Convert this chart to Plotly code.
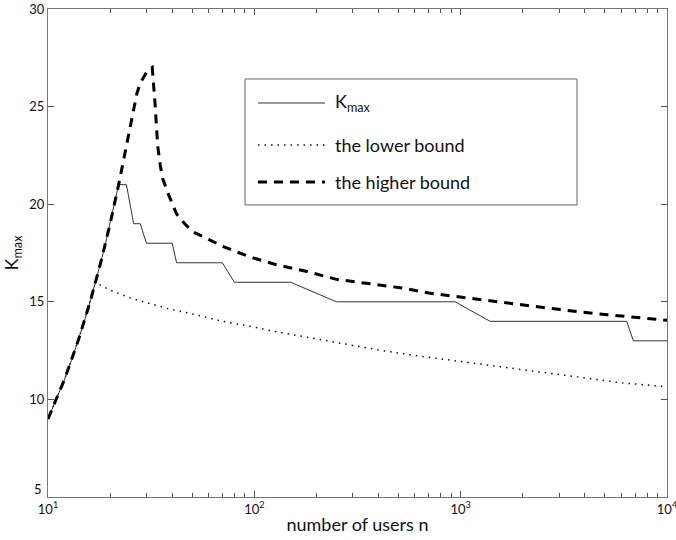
import plotly.graph_objects as go

# K_max: step-like maximum number of users supported
n_kmax = [10, 11, 12, 13, 14, 15, 16, 17, 18, 19, 20, 21, 22, 24, 26, 28, 30, 40, 42,
          70, 80, 150, 250, 940, 1390, 6380, 6870, 10000]
kmax = [9, 10, 11, 12, 13, 14, 15, 16, 17, 18, 19, 20, 21, 21, 19, 19, 18, 18, 17,
        17, 16, 16, 15, 15, 14, 14, 13, 13]

# lower bound
n_low = [10, 12, 14, 16, 17, 18, 20, 25, 30, 38, 49, 70, 100, 123, 200, 391, 600,
         1000, 1500, 2500, 4000, 6000, 10000]
low = [9, 11, 13, 15, 16, 15.85, 15.6, 15.2, 14.95, 14.65, 14.4, 14.0, 13.7, 13.5,
       13.1, 12.55, 12.25, 11.95, 11.7, 11.4, 11.1, 10.85, 10.65]

# higher bound
n_high = [10, 12, 14, 16, 18, 20, 22, 24, 26, 27, 28, 29, 30, 31, 32, 33, 34, 35, 36,
          38, 40, 42, 46, 50, 60, 70, 80, 95, 128, 180, 250, 350, 525, 700, 940, 1360,
          2000, 3040, 5000, 7000, 10000]
high = [9, 11, 13, 15, 17, 19, 21, 23, 25, 25.7, 26.2, 26.5, 26.75, 26.9, 27.0, 25.2,
        23.0, 22.0, 21.3, 20.6, 20.0, 19.5, 19.0, 18.6, 18.2, 17.85, 17.6, 17.3, 16.9,
        16.55, 16.15, 15.95, 15.7, 15.45, 15.28, 15.05, 14.85, 14.6, 14.35, 14.2, 14.05]

x_major = [10, 100, 1000, 10000]
x_major_text = ["10<sup>1</sup>", "10<sup>2</sup>", "10<sup>3</sup>", "10<sup>4</sup>"]
x_minor = [m * d for d in (10, 100, 1000) for m in range(2, 10)]
y_ticks = [5, 10, 15, 20, 25, 30]
# the bottom label "5" is drawn separately, lifted above the x tick labels
y_tick_text = ["", "10", "15", "20", "25", "30"]

legend_labels = ["K<sub>max</sub>", "the lower bound", "the higher bound"]

FONT = "Lato, 'Noto Sans', sans-serif"
TEXT_COLOR = "#111111"

solid_style = dict(color="#333333", width=1)
dot_style = dict(color="#111111", width=1.5, dash="1.5px,5px")
dash_style = dict(color="#000000", width=3, dash="9px,7px")

fig = go.Figure()
fig.add_trace(go.Scatter(x=n_low, y=low, mode="lines", line=dot_style,
                         showlegend=False, name=legend_labels[1]))
fig.add_trace(go.Scatter(x=n_kmax, y=kmax, mode="lines", line=solid_style,
                         showlegend=False, name=legend_labels[0]))
fig.add_trace(go.Scatter(x=n_high, y=high, mode="lines", line=dash_style,
                         showlegend=False, name=legend_labels[2]))

axis_color = "#777777"
fig.update_xaxes(
    type="log", range=[1, 4], automargin=False,
    tickvals=x_major, ticktext=x_major_text,
    ticks="inside", ticklen=6, tickcolor="#555555",
    ticklabeloverflow="allow",
    minor=dict(tickvals=x_minor, ticks="inside", ticklen=4, tickcolor="#555555"),
    showline=True, linecolor=axis_color, linewidth=1, mirror="ticks",
    showgrid=False, zeroline=False,
    tickfont=dict(family=FONT, size=13, color=TEXT_COLOR),
    title=dict(text="number of users n", standoff=2,
               font=dict(family=FONT, size=18, color=TEXT_COLOR)),
)
fig.update_yaxes(
    range=[5, 30], tickvals=y_ticks, ticktext=y_tick_text, automargin=False,
    ticks="inside", ticklen=6, tickcolor="#555555",
    showline=True, linecolor=axis_color, linewidth=1, mirror="ticks",
    showgrid=False, zeroline=False,
    tickfont=dict(family=FONT, size=13, color=TEXT_COLOR),
    title=dict(text="K<sub>max</sub>", standoff=10,
               font=dict(family=FONT, size=18, color=TEXT_COLOR)),
)

# Legend box drawn in paper coordinates
box = dict(x0=0.3183, x1=0.8546, y0=0.5984, y1=0.8566)
shapes = [dict(type="rect", xref="paper", yref="paper", **box,
               line=dict(color="#666666", width=1), fillcolor="white", layer="above")]
row_y = [0.8074, 0.7213, 0.6455]
styles = [solid_style, dot_style, dash_style]
annotations = []
for label, yy, st in zip(legend_labels, row_y, styles):
    shapes.append(dict(type="line", xref="paper", yref="paper",
                       x0=0.3393, x1=0.4475, y0=yy, y1=yy, line=st, layer="above"))
    annotations.append(dict(xref="paper", yref="paper", x=0.4604, y=yy,
                            xanchor="left", yanchor="middle", text=label,
                            showarrow=False,
                            font=dict(family=FONT, size=18, color=TEXT_COLOR)))

# lowest y tick label, raised so it clears the "10^1" label
annotations.append(dict(xref="paper", yref="y", x=0, y=y_ticks[0], text="5",
                        xanchor="right", yanchor="bottom", xshift=-4, yshift=-2,
                        showarrow=False,
                        font=dict(family=FONT, size=13, color=TEXT_COLOR)))

fig.update_layout(
    width=676, height=540,
    margin=dict(l=48, r=9, t=9, b=43, autoexpand=False),
    paper_bgcolor="white", plot_bgcolor="white",
    shapes=shapes, annotations=annotations,
    showlegend=False,
)

fig.write_html("out.html")
